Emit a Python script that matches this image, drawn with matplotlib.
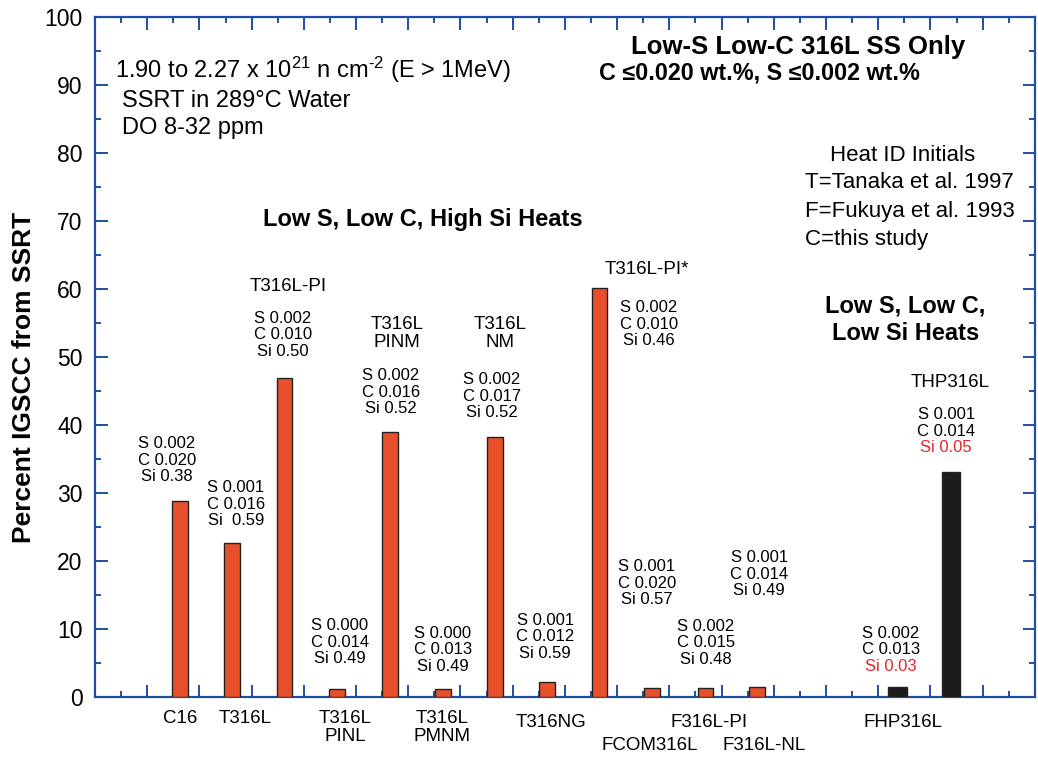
import numpy as np
import matplotlib.pyplot as plt
from matplotlib.ticker import MultipleLocator, NullFormatter

plt.rcParams['font.family'] = ['Liberation Sans', 'DejaVu Sans']
plt.rcParams['mathtext.default'] = 'regular'

# bars, in plotting order
heats = ["C16", "T316L", "T316L-PI", "T316L PINL", "T316L PINM", "T316L PMNM",
         "T316L NM", "T316NG", "T316L-PI*", "FCOM316L", "F316L-PI", "F316L-NL",
         "FHP316L", "THP316L"]
bar_x = [1.63, 2.62, 3.63, 4.63, 5.65, 6.67, 7.66, 8.66, 9.66, 10.67, 11.69, 12.68,
         15.37, 16.39]
igscc = [28.8, 22.7, 46.9, 1.1, 38.9, 1.2, 38.2, 2.2, 60.1, 1.3, 1.3, 1.4, 1.4, 33.1]
low_si = [False] * 12 + [True, True]

# composition (wt.%)
comp_S = ["0.002", "0.001", "0.002", "0.000", "0.002", "0.000", "0.002", "0.001",
          "0.002", "0.001", "0.002", "0.001", "0.002", "0.001"]
comp_C = ["0.020", "0.016", "0.010", "0.014", "0.016", "0.013", "0.017", "0.012",
          "0.010", "0.020", "0.015", "0.014", "0.013", "0.014"]
comp_Si = ["0.38", " 0.59", "0.50", "0.49", "0.52", "0.49", "0.52", "0.59",
           "0.46", "0.57", "0.48", "0.49", "0.03", "0.05"]
# where the composition blocks sit (x, y of first line)
comp_pos = [(1.38, 37.5), (2.70, 31.0), (3.60, 55.9), (4.69, 10.7), (5.67, 47.5),
            (6.66, 9.6), (7.60, 46.9), (8.62, 11.5), (10.61, 57.5), (10.57, 19.4),
            (11.70, 10.6), (12.72, 20.7), (15.24, 9.6), (16.30, 41.7)]

# heat names: (text lines, x, y of first line)
name_pos = [(["C16"], 1.63, -2.9), (["T316L"], 2.87, -2.9), (["T316L-PI"], 3.70, 60.7),
            (["T316L", "PINL"], 4.79, -2.9), (["T316L", "PINM"], 5.78, 55.1),
            (["T316L", "PMNM"], 6.64, -2.9), (["T316L", "NM"], 7.76, 55.1),
            (["T316NG"], 8.73, -3.4), (["T316L-PI*"], 10.57, 63.2),
            (["FCOM316L"], 10.63, -6.8), (["F316L-PI"], 11.76, -3.4),
            (["F316L-NL"], 12.81, -6.8), (["FHP316L"], 15.47, -3.4),
            (["THP316L"], 16.37, 46.5)]

refs = ["T=Tanaka et al. 1997", "F=Fukuya et al. 1993", "C=this study"]

blue = "#1d4fa5"
red_bar = "#e6502a"
red_txt = "#e3262c"

fig = plt.figure(figsize=(10.38, 7.57), dpi=100)
ax = fig.add_axes([0.0915, 0.0793, 0.9055, 0.8982])

colors = ["#1c1c1c" if s else red_bar for s in low_si]
widths = [0.35 if s else 0.30 for s in low_si]
ax.bar(bar_x, igscc, width=widths, color=colors, edgecolor="#222222", linewidth=1.0, zorder=3)

ax.set_xlim(0, 18)
ax.set_ylim(0, 100)
ax.xaxis.set_major_locator(MultipleLocator(1))
ax.xaxis.set_minor_locator(MultipleLocator(0.5))
ax.xaxis.set_major_formatter(NullFormatter())
ax.yaxis.set_major_locator(MultipleLocator(10))
ax.yaxis.set_minor_locator(MultipleLocator(5))
ax.tick_params(which="both", direction="in", top=True, right=True, color=blue, width=1.4)
ax.tick_params(which="major", length=9)
ax.tick_params(which="minor", length=4.5)
ax.tick_params(axis="y", labelsize=16.5, pad=9)
for sp in ax.spines.values():
    sp.set_color(blue)
    sp.set_linewidth(1.6)

fig.text(24 / 1038, 1 - 377 / 757, "Percent IGSCC from SSRT", rotation=90,
         ha="center", va="center", fontsize=19, fontweight="bold")

# composition labels
dy = 2.43
for i in range(len(heats)):
    x, y = comp_pos[i]
    ax.text(x, y, "S " + comp_S[i], ha="center", va="center_baseline", fontsize=12)
    ax.text(x, y - dy, "C " + comp_C[i], ha="center", va="center_baseline", fontsize=12)
    ax.text(x, y - 2 * dy, "Si " + comp_Si[i], ha="center", va="center_baseline", fontsize=12,
            color=red_txt if low_si[i] else "black")

for lines, x, y in name_pos:
    for k, line in enumerate(lines):
        ax.text(x, y - k * 2.65, line, ha="center", va="center_baseline", fontsize=13.5,
                clip_on=False)

# notes
ax.text(0.021, 0.928, "1.90 to 2.27 x 10$^{21}$ n cm$^{\u20102}$ (E > 1MeV)", transform=ax.transAxes,
        ha="left", va="center_baseline", fontsize=17)
ax.text(0.029, 0.880, "SSRT in 289°C Water", transform=ax.transAxes,
        ha="left", va="center_baseline", fontsize=17)
ax.text(0.029, 0.840, "DO 8-32 ppm", transform=ax.transAxes,
        ha="left", va="center_baseline", fontsize=17)
ax.text(0.748, 0.959, "Low-S Low-C 316L SS Only", transform=ax.transAxes,
        ha="center", va="center_baseline", fontsize=18.5, fontweight="bold")
ax.text(0.707, 0.921, "C ≤0.020 wt.%, S ≤0.002 wt.%", transform=ax.transAxes,
        ha="center", va="center_baseline", fontsize=16.8, fontweight="bold")
ax.text(0.349, 0.706, "Low S, Low C, High Si Heats", transform=ax.transAxes,
        ha="center", va="center_baseline", fontsize=17, fontweight="bold")
ax.text(0.862, 0.579, "Low S, Low C,", transform=ax.transAxes,
        ha="center", va="center_baseline", fontsize=17, fontweight="bold")
ax.text(0.862, 0.538, "Low Si Heats", transform=ax.transAxes,
        ha="center", va="center_baseline", fontsize=17, fontweight="bold")
ax.text(0.859, 0.800, "Heat ID Initials", transform=ax.transAxes,
        ha="center", va="center_baseline", fontsize=16)
for k, line in enumerate(refs):
    ax.text(0.755, 0.760 - k * 0.042, line, transform=ax.transAxes,
            ha="left", va="center_baseline", fontsize=16)

fig.savefig("out.png", dpi=100)
